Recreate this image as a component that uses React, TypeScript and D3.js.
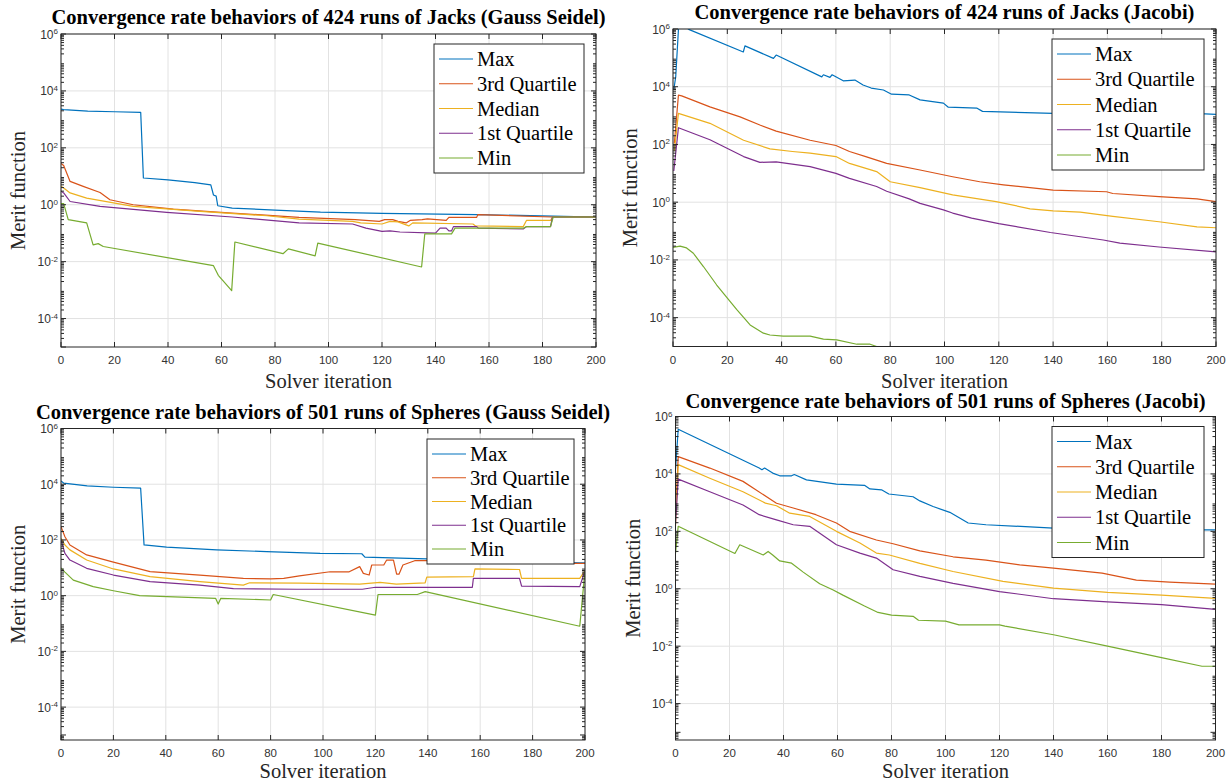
import React from 'react';
import * as d3 from 'd3';

type Pt = [number, number];

const seriesNames = ['Max', '3rd Quartile', 'Median', '1st Quartile', 'Min'];
const seriesColors = ['#0072bd', '#d95319', '#edb120', '#7e2f8e', '#77ac30'];
const xTicks = [0, 20, 40, 60, 80, 100, 120, 140, 160, 180, 200];
const yDecades = [-4, -2, 0, 2, 4, 6];

// Jacks, Gauss Seidel
const jacksGsMax: Pt[] = [[0, 2300], [1, 2200], [10, 1950], [20, 1850], [29.8, 1750], [30.8, 8.7], [40, 7.5], [50, 6.0], [56, 5.0], [57, 2.2], [58, 2.0], [58.6, 0.92], [64, 0.76], [80, 0.65], [97, 0.55], [120, 0.5], [155.4, 0.45], [184, 0.4], [200, 0.37]];
const jacksGsQ3: Pt[] = [[0, 28], [1, 24], [3.4, 6.6], [8.3, 4.4], [14.6, 2.7], [18.3, 1.5], [27, 1.0], [42, 0.7], [64, 0.51], [89, 0.36], [110, 0.3], [119, 0.26], [121, 0.3], [124, 0.3], [126, 0.26], [129, 0.23], [130.5, 0.28], [135, 0.3], [137, 0.32], [144, 0.28], [145, 0.36], [155.4, 0.36], [155.8, 0.45], [183.4, 0.37], [200, 0.37]];
const jacksGsMed: Pt[] = [[0, 4.5], [1, 3.9], [3.4, 2.6], [9.6, 1.7], [27, 0.87], [52, 0.58], [77, 0.41], [89, 0.31], [109, 0.26], [112, 0.23], [120, 0.21], [123, 0.26], [126, 0.25], [130, 0.18], [131.5, 0.23], [154, 0.21], [155, 0.18], [172.8, 0.17], [174, 0.28], [183, 0.28], [183.7, 0.37], [200, 0.37]];
const jacksGsQ1: Pt[] = [[0, 3], [1, 2.6], [3.4, 1.3], [14.6, 0.87], [39.5, 0.54], [64, 0.37], [89, 0.23], [109, 0.21], [114, 0.15], [120, 0.115], [123, 0.12], [126.7, 0.11], [140, 0.1], [141.7, 0.15], [144, 0.15], [145, 0.12], [146, 0.12], [146.7, 0.17], [155.4, 0.17], [156, 0.15], [172.8, 0.14], [174, 0.17], [183, 0.17], [183.7, 0.37], [200, 0.37]];
const jacksGsMin: Pt[] = [[0, 1.1], [1, 1.1], [2.7, 0.3], [9.6, 0.23], [12, 0.039], [13.9, 0.043], [15.8, 0.034], [57, 0.0072], [58.8, 0.0033], [63.8, 0.00095], [65, 0.049], [83, 0.019], [85, 0.028], [95, 0.016], [96, 0.045], [134.8, 0.0065], [136, 0.095], [146, 0.095], [147.3, 0.15], [172.8, 0.15], [174, 0.17], [183, 0.17], [184, 0.37], [200, 0.37]];

// Jacks, Jacobi
const jacksJMax: Pt[] = [[0.3, 8000], [1, 2.2e4], [2.2, 2e6], [4, 1.3e6], [6, 9.5e5], [25.9, 1.6e5], [26.5, 2.6e5], [37, 9.6e4], [38, 1.25e5], [54.8, 2.2e4], [55.4, 2.6e4], [57.8, 2.1e4], [58.6, 2.6e4], [62.7, 1.6e4], [67, 1.7e4], [70, 1.15e4], [73, 9e3], [77.5, 7.7e3], [80.5, 5.5e3], [87, 5.2e3], [91, 3.5e3], [99.6, 2.7e3], [101.4, 1.95e3], [112, 1.8e3], [114, 1.4e3], [140, 1.2e3], [196, 1.15e3], [200, 1.1e3]];
const jacksJQ3: Pt[] = [[0.5, 110], [2, 5.1e3], [3.2, 4.8e3], [13.6, 2e3], [24.7, 900], [32, 470], [38, 290], [50.5, 140], [60, 92], [65, 57], [71, 38], [78.7, 22], [91, 13], [103, 7.6], [113, 5.1], [121.7, 4], [140, 2.6], [159.7, 2.3], [162, 2.0], [179, 1.55], [193, 1.3], [200, 1.05]];
const jacksJMed: Pt[] = [[0.5, 60], [2, 1.2e3], [13.6, 540], [26, 140], [35.7, 70], [44, 57], [50.5, 50], [60, 38], [65, 22], [75, 11.5], [80, 5.1], [91, 3.2], [103, 1.8], [119, 1.05], [131.5, 0.59], [140, 0.5], [150, 0.45], [162, 0.32], [179, 0.21], [193, 0.14], [200, 0.13]];
const jacksJQ1: Pt[] = [[0.3, 12], [2, 380], [13.6, 145], [26, 38], [32, 24], [38, 25], [50.5, 17], [60, 10], [65, 6.7], [75, 3.5], [78.7, 2.4], [87, 1.3], [91, 0.91], [99.6, 0.54], [103, 0.42], [110, 0.28], [120, 0.18], [139, 0.089], [158.5, 0.049], [164.6, 0.038], [179, 0.028], [200, 0.019]];
const jacksJMin: Pt[] = [[0, 0.027], [2.6, 0.03], [5, 0.026], [7.5, 0.017], [11.2, 0.0059], [16.1, 0.00135], [23.5, 1.9e-4], [28.4, 5.6e-5], [33.3, 2.9e-5], [35.7, 2.5e-5], [40.6, 2.3e-5], [50.5, 2.3e-5], [55.4, 1.8e-5], [60.3, 1.7e-5], [67.7, 1.2e-5], [72.6, 1.2e-5], [75, 1e-5], [80, 7e-6]];

// Spheres, Gauss Seidel
const spheresGsMax: Pt[] = [[0, 1.3e4], [1, 1.1e4], [10, 8.7e3], [20, 7.8e3], [30.4, 7.2e3], [31.7, 66], [40.3, 55], [59.4, 44], [78.5, 38], [98.9, 33], [114.8, 32], [116, 24], [139.6, 21], [160, 19], [180, 17], [198, 15], [200, 15]];
const spheresGsQ3: Pt[] = [[0, 300], [1.5, 130], [3.4, 66], [9.8, 29], [20, 16], [34, 7.3], [53, 5.5], [69.6, 4.2], [80, 4.0], [85, 4.2], [91, 5.1], [102.7, 7.2], [110, 7.2], [114, 11], [115.4, 6.3], [117.6, 5.5], [118.6, 12.6], [123.2, 12.6], [124.3, 19], [126.9, 19], [128.1, 5.9], [129, 5.9], [130.5, 12.6], [135, 18], [140, 18], [160, 17], [180, 15], [197, 14.5], [200, 14.5]];
const spheresGsMed: Pt[] = [[0, 115], [1.5, 66], [3.4, 44], [9.8, 19], [20, 9.1], [34, 4.8], [53, 3.2], [69.6, 2.4], [72, 2.9], [91, 2.8], [114, 2.6], [121.8, 3.0], [128, 2.6], [139, 2.9], [139.6, 4.6], [157.4, 4.8], [158, 9.1], [175, 8.7], [175.8, 4.2], [198, 4.2], [200, 8]];
const spheresGsQ1: Pt[] = [[0, 100], [1.5, 33], [3.4, 19], [9.8, 9.6], [20, 5.5], [34, 3.2], [53, 2.4], [65.8, 1.8], [90, 1.7], [115, 1.7], [120, 2.0], [157, 2.0], [157.4, 4.2], [175, 4.2], [175.8, 2.2], [198, 2.1], [200, 8]];
const spheresGsMin: Pt[] = [[0, 10], [1.5, 7], [4.7, 3.6], [12.3, 2.1], [20, 1.5], [30, 1.0], [59, 0.8], [60, 0.5], [61, 0.8], [80, 0.7], [81, 1.1], [120, 0.2], [121, 1.1], [136, 1.1], [139, 1.4], [198, 0.08], [200, 8]];

// Spheres, Jacobi
const spheresJMax: Pt[] = [[0, 1.4e4], [1, 3.6e5], [31, 1.6e4], [32, 1.4e4], [33, 1.6e4], [36, 1.07e4], [38.6, 8.6e3], [43, 8.6e3], [44, 9.5e3], [48.5, 6.2e3], [59.6, 4.4e3], [70, 4.0e3], [72, 3.0e3], [76.3, 2.8e3], [79, 2.0e3], [88, 1.6e3], [90.5, 1.15e3], [95.4, 730], [101.6, 460], [108.4, 195], [115, 170], [140, 130], [196, 112], [200, 112]];
const spheresJQ3: Pt[] = [[0, 330], [1, 4e4], [12.7, 1.6e4], [25, 5.5e3], [37.4, 950], [43.6, 650], [52, 380], [59.6, 195], [64.5, 100], [74.4, 50], [80.6, 37], [90.5, 21], [102.8, 13], [115, 10], [127.5, 6.8], [140, 5.2], [158, 3.5], [170.7, 2.0], [183, 1.7], [200, 1.45]];
const spheresJMed: Pt[] = [[0, 150], [1, 2.1e4], [12.7, 7.1e3], [25, 2.4e3], [33.3, 960], [37.4, 780], [42.3, 430], [49.7, 330], [59.6, 100], [68.3, 39], [74.4, 17.5], [79.2, 15], [90.5, 7.7], [102.8, 4.0], [121.3, 1.8], [140, 1.05], [160, 0.75], [180, 0.6], [200, 0.46]];
const spheresJQ1: Pt[] = [[0, 180], [1, 6.6e3], [12.7, 2.4e3], [25, 830], [31, 380], [37.4, 250], [43.6, 170], [49.7, 150], [59.6, 34], [68.3, 17.5], [74.4, 11.7], [80.6, 4.6], [90.5, 2.7], [102.8, 1.55], [120, 0.8], [140, 0.45], [160, 0.35], [180, 0.28], [200, 0.19]];
const spheresJMin: Pt[] = [[0, 17], [1, 150], [22, 17], [23.8, 34], [32.5, 15], [34.3, 20], [36, 15], [38.6, 9.3], [43, 7.8], [47.3, 3.8], [53.4, 1.5], [58.4, 0.91], [62, 0.6], [70, 0.25], [75, 0.15], [80, 0.12], [88, 0.11], [90, 0.08], [100, 0.075], [105, 0.055], [120, 0.055], [122, 0.05], [140, 0.025], [160, 0.01], [180, 0.004], [195, 0.002], [200, 0.002]];

const panels = [
  {
    id: 'p1', title: 'Convergence rate behaviors of 424 runs of Jacks (Gauss Seidel)',
    left: 61, right: 596, top: 34, bottom: 347, yMin: 1e-5, titleY: 24, xLabelDy: 41,
    legend: { x: 434, y: 44, w: 150, h: 129 },
    series: [jacksGsMax, jacksGsQ3, jacksGsMed, jacksGsQ1, jacksGsMin],
  },
  {
    id: 'p2', title: 'Convergence rate behaviors of 424 runs of Jacks (Jacobi)',
    left: 673, right: 1216, top: 29, bottom: 346.5, yMin: 1e-5, titleY: 18.5, xLabelDy: 41,
    legend: { x: 1052, y: 39, w: 152, h: 131 },
    series: [jacksJMax, jacksJQ3, jacksJMed, jacksJQ1, jacksJMin],
  },
  {
    id: 'p3', title: 'Convergence rate behaviors of 501 runs of Spheres (Gauss Seidel)',
    left: 61, right: 585, top: 428.5, bottom: 740, yMin: 6.6e-6, titleY: 419, xLabelDy: 38,
    legend: { x: 427, y: 439, w: 147, h: 125 },
    series: [spheresGsMax, spheresGsQ3, spheresGsMed, spheresGsQ1, spheresGsMin],
  },
  {
    id: 'p4', title: 'Convergence rate behaviors of 501 runs of Spheres (Jacobi)',
    left: 675.5, right: 1215.5, top: 416.5, bottom: 740, yMin: 5.4e-6, titleY: 407.5, xLabelDy: 38,
    legend: { x: 1052, y: 426.5, w: 152, h: 131 },
    series: [spheresJMax, spheresJQ3, spheresJMed, spheresJQ1, spheresJMin],
  },
];

const serif = '"Liberation Serif", "Times New Roman", serif';
const sans = '"Liberation Sans", Arial, sans-serif';
const axisColor = '#262626';

function Panel({ p }: { p: typeof panels[number] }) {
  const x = d3.scaleLinear().domain([0, 200]).range([p.left, p.right]);
  const y = d3.scaleLog().domain([p.yMin, 1e6]).range([p.bottom, p.top]);
  const line = d3.line<Pt>().x(d => x(d[0])).y(d => y(d[1]));
  const minor: number[] = [];
  for (let e = Math.floor(Math.log10(p.yMin)); e < 6; e++) {
    for (let k = 2; k < 10; k++) {
      const v = k * Math.pow(10, e);
      if (v > p.yMin && v < 1e6) minor.push(v);
    }
  }
  const cx = (p.left + p.right) / 2;
  const cy = (p.top + p.bottom) / 2;
  const lg = p.legend;
  const rowH = (lg.h - 30) / 4;
  return (
    <g>
      <defs>
        <clipPath id={'clip-' + p.id}>
          <rect x={p.left} y={p.top} width={p.right - p.left} height={p.bottom - p.top} />
        </clipPath>
      </defs>
      <rect x={p.left} y={p.top} width={p.right - p.left} height={p.bottom - p.top} fill="#fff" />
      {/* grid */}
      {xTicks.map(t => (
        <line key={'gx' + t} x1={x(t)} x2={x(t)} y1={p.top} y2={p.bottom} stroke="#e2e2e2" strokeWidth={1} />
      ))}
      {yDecades.map(e => (
        <line key={'gy' + e} x1={p.left} x2={p.right} y1={y(Math.pow(10, e))} y2={y(Math.pow(10, e))} stroke="#e2e2e2" strokeWidth={1} />
      ))}
      {/* series */}
      <g clipPath={`url(#clip-${p.id})`}>
        {p.series.map((s, i) => (
          <path key={i} d={line(s) || ''} fill="none" stroke={seriesColors[i]} strokeWidth={1.2} strokeLinejoin="round" />
        ))}
      </g>
      {/* box */}
      <rect x={p.left} y={p.top} width={p.right - p.left} height={p.bottom - p.top} fill="none" stroke={axisColor} strokeWidth={1} />
      {/* x ticks */}
      {xTicks.map(t => (
        <g key={'tx' + t}>
          <line x1={x(t)} x2={x(t)} y1={p.bottom} y2={p.bottom - 5} stroke={axisColor} />
          <line x1={x(t)} x2={x(t)} y1={p.top} y2={p.top + 5} stroke={axisColor} />
          <text x={x(t)} y={p.bottom + 17} textAnchor="middle" fontFamily={sans} fontSize={11.5} fill="#333">{t}</text>
        </g>
      ))}
      {/* y ticks */}
      {minor.map(v => (
        <g key={'my' + v}>
          <line x1={p.left} x2={p.left + 3} y1={y(v)} y2={y(v)} stroke={axisColor} />
          <line x1={p.right} x2={p.right - 3} y1={y(v)} y2={y(v)} stroke={axisColor} />
        </g>
      ))}
      {[-5, ...yDecades].filter(e => Math.pow(10, e) >= p.yMin).map(e => (
        <g key={'ty' + e}>
          <line x1={p.left} x2={p.left + 5} y1={y(Math.pow(10, e))} y2={y(Math.pow(10, e))} stroke={axisColor} />
          <line x1={p.right} x2={p.right - 5} y1={y(Math.pow(10, e))} y2={y(Math.pow(10, e))} stroke={axisColor} />
        </g>
      ))}
      {yDecades.map(e => (
        <text key={'ly' + e} x={p.left - 3} y={y(Math.pow(10, e)) + 4.5} textAnchor="end" fontFamily={sans} fontSize={12} fill="#333">
          10<tspan dy={-4.5} fontSize={8}>{e}</tspan>
        </text>
      ))}
      {/* labels */}
      <text x={cx} y={p.titleY} textAnchor="middle" fontFamily={serif} fontWeight="bold" fontSize={20.5} fill="#000">{p.title}</text>
      <text x={cx} y={p.bottom + p.xLabelDy} textAnchor="middle" fontFamily={serif} fontSize={20.5} fill="#262626">Solver iteration</text>
      <text transform={`translate(${p.left - 36},${cy}) rotate(-90)`} textAnchor="middle" fontFamily={serif} fontSize={20.5} fill="#262626">Merit function</text>
      {/* legend */}
      <rect x={lg.x} y={lg.y} width={lg.w} height={lg.h} fill="#fff" stroke={axisColor} strokeWidth={1} />
      {seriesNames.map((n, i) => {
        const ry = lg.y + 15 + i * rowH;
        return (
          <g key={n}>
            <line x1={lg.x + 5} x2={lg.x + 39} y1={ry} y2={ry} stroke={seriesColors[i]} strokeWidth={1.2} />
            <text x={lg.x + 43} y={ry + 7} fontFamily={serif} fontSize={20.5} fill="#000">{n}</text>
          </g>
        );
      })}
    </g>
  );
}

export default function App() {
  return (
    <svg width={1231} height={782} style={{ position: 'absolute', left: 0, top: 0, background: '#fff' }}>
      <rect width={1231} height={782} fill="#fff" />
      {panels.map(p => <Panel key={p.id} p={p} />)}
    </svg>
  );
}
